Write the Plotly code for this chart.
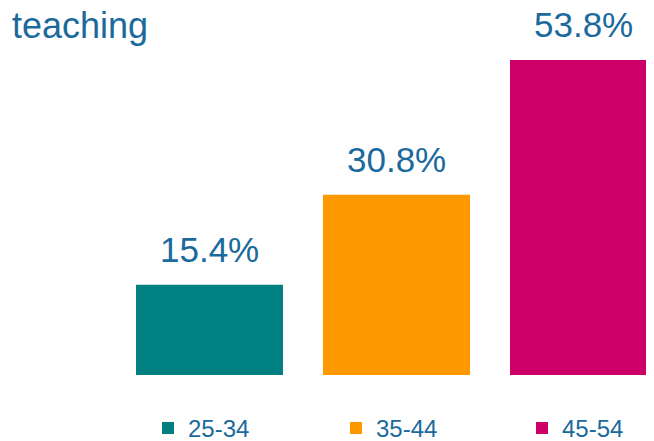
import plotly.graph_objects as go

categories = ["25-34", "35-44", "45-54"]
values = [15.4, 30.8, 53.8]
labels = ["15.4%", "30.8%", "53.8%"]
colors = ["#008080", "#FF9900", "#CC0066"]

text_color = "#1B6A9C"
font_family = "Liberation Sans, Arial, sans-serif"

legend_ids = ["legend", "legend2", "legend3"]
legend_x = [0.0595, 0.4089, 0.7546]

fig = go.Figure()

for cat, val, col, lg in zip(categories, values, colors, legend_ids):
    fig.add_trace(go.Bar(x=[cat], y=[val], name=cat, legend=lg,
                         marker=dict(color=col, line=dict(width=0)), hoverinfo="skip"))

for cat, val, lab in zip(categories, values, labels):
    fig.add_annotation(x=cat, y=val, text=lab, showarrow=False, yanchor="bottom", yshift=14,
                       font=dict(size=35, color=text_color, family=font_family))

# page body has an 8px margin, so the figure is sized to fill the rest of the window
fig.update_layout(
    width=646, height=433,
    margin=dict(l=108, r=0, t=52, b=66, autoexpand=False),
    paper_bgcolor="white", plot_bgcolor="white",
    bargap=0.214, barmode="overlay",
    font=dict(family=font_family, color=text_color),
    title=dict(text="teaching", x=4/646, xanchor="left", xref="container",
               y=0.99, yanchor="top", yref="container",
               font=dict(size=36, color=text_color, family=font_family)),
    showlegend=True,
)

# one legend per bar so the entries line up under the bars
for lg, lx in zip(legend_ids, legend_x):
    fig.update_layout({lg: dict(orientation="h", xref="paper", yref="paper",
                                x=lx, xanchor="left", y=-0.098, yanchor="top",
                                font=dict(size=24, color=text_color, family=font_family))})

fig.update_xaxes(type="category", categoryorder="array", categoryarray=categories,
                 range=[-0.5, 2.377], showticklabels=False, showgrid=False, zeroline=False,
                 showline=False, ticks="")
fig.update_yaxes(range=[0, 53.8], visible=False)

fig.write_html("out.html")
